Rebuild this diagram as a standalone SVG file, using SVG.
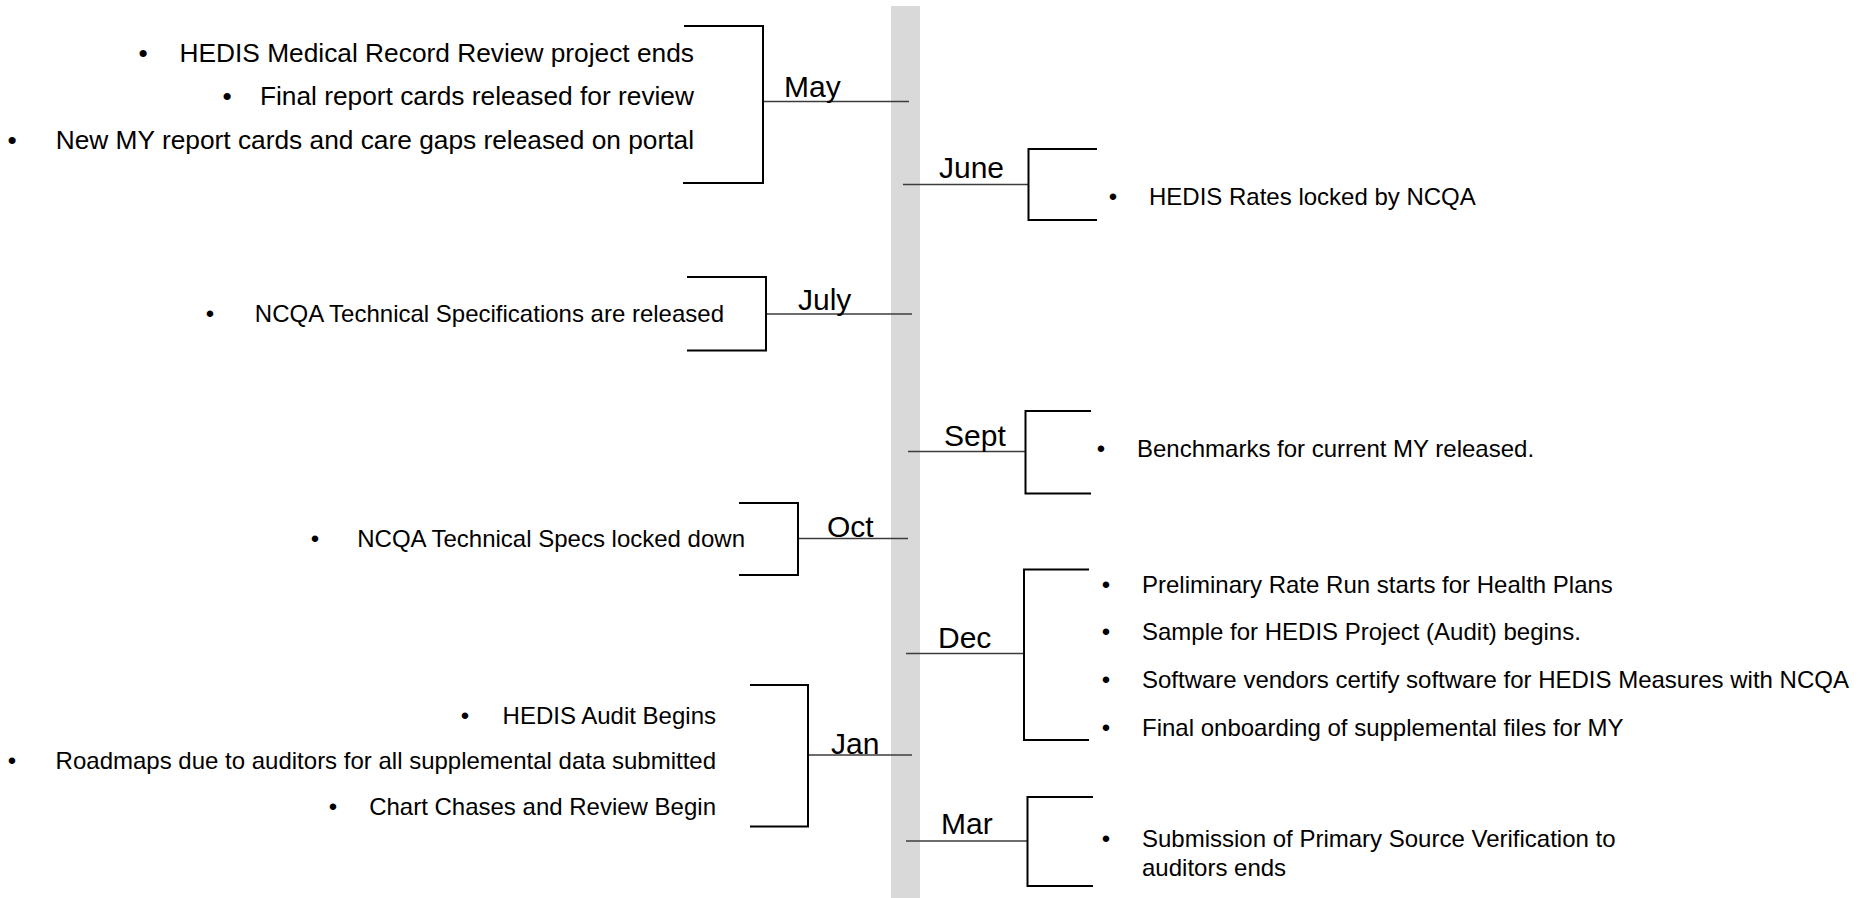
<svg xmlns="http://www.w3.org/2000/svg" width="1874" height="898" viewBox="0 0 1874 898">
<style>
.bar{fill:#d9d9d9}
.br{fill:none;stroke:#000;stroke-width:2}
.cn{fill:none;stroke:#3c3c3c;stroke-width:1.6}
.m{font-family:"Liberation Sans",Arial,sans-serif;font-size:30px;fill:#000}
.t{font-family:"Liberation Sans",Arial,sans-serif;font-size:24px;fill:#000}
.tl{font-family:"Liberation Sans",Arial,sans-serif;font-size:26.3px;fill:#000}
.e{text-anchor:end}
.b{text-anchor:middle}
</style>
<rect class="bar" x="891" y="6" width="29" height="892"/>
<g id="connectors">
<line class="cn" x1="763" y1="101.5" x2="909" y2="101.5"/>
<line class="cn" x1="903" y1="184.5" x2="1028" y2="184.5"/>
<line class="cn" x1="766" y1="314" x2="912" y2="314"/>
<line class="cn" x1="908" y1="451.5" x2="1025" y2="451.5"/>
<line class="cn" x1="798" y1="538.5" x2="908" y2="538.5"/>
<line class="cn" x1="906" y1="653.5" x2="1024" y2="653.5"/>
<line class="cn" x1="808" y1="755" x2="912" y2="755"/>
<line class="cn" x1="906" y1="841" x2="1027" y2="841"/>
</g>
<g id="may">
<polyline class="br" points="684,26 763,26 763,183 683,183"/>
<text class="m" x="784" y="97">May</text>
<text class="tl b" x="143" y="62">•</text>
<text class="tl e" x="694" y="62">HEDIS Medical Record Review project ends</text>
<text class="tl b" x="227" y="105">•</text>
<text class="tl e" x="694" y="105">Final report cards released for review</text>
<text class="tl b" x="12" y="149">•</text>
<text class="tl e" x="694" y="149">New MY report cards and care gaps released on portal</text>
</g>
<g id="june">
<polyline class="br" points="1097,149 1028.5,149 1028.5,220 1097,220"/>
<text class="m" x="939" y="178">June</text>
<text class="t b" x="1113" y="205">•</text>
<text class="t" x="1149" y="205">HEDIS Rates locked by NCQA</text>
</g>
<g id="july">
<polyline class="br" points="687,277 766,277 766,350.5 687,350.5"/>
<text class="m" x="798" y="310">July</text>
<text class="t b" x="210" y="322">•</text>
<text class="t e" x="724" y="322">NCQA Technical Specifications are released</text>
</g>
<g id="sept">
<polyline class="br" points="1091,411 1025.5,411 1025.5,493.5 1091,493.5"/>
<text class="m" x="944" y="446">Sept</text>
<text class="t b" x="1101" y="457">•</text>
<text class="t" x="1137" y="457">Benchmarks for current MY released.</text>
</g>
<g id="oct">
<polyline class="br" points="739,503 798,503 798,575 739,575"/>
<text class="m" x="827" y="536.5">Oct</text>
<text class="t b" x="315" y="547">•</text>
<text class="t e" x="745" y="547">NCQA Technical Specs locked down</text>
</g>
<g id="dec">
<polyline class="br" points="1089,569.5 1024,569.5 1024,740 1089,740"/>
<text class="m" x="938" y="647.5">Dec</text>
<text class="t b" x="1106" y="593">•</text>
<text class="t" x="1142" y="593">Preliminary Rate Run starts for Health Plans</text>
<text class="t b" x="1106" y="640">•</text>
<text class="t" x="1142" y="640">Sample for HEDIS Project (Audit) begins.</text>
<text class="t b" x="1106" y="688">•</text>
<text class="t" x="1142" y="688">Software vendors certify software for HEDIS Measures with NCQA</text>
<text class="t b" x="1106" y="736">•</text>
<text class="t" x="1142" y="736">Final onboarding of supplemental files for MY</text>
</g>
<g id="jan">
<polyline class="br" points="750,685 808,685 808,826.5 750,826.5"/>
<text class="m" x="831" y="754">Jan</text>
<text class="t b" x="465" y="724">•</text>
<text class="t e" x="716" y="724">HEDIS Audit Begins</text>
<text class="t b" x="12" y="769">•</text>
<text class="t e" x="716" y="769">Roadmaps due to auditors for all supplemental data submitted</text>
<text class="t b" x="333" y="815">•</text>
<text class="t e" x="716" y="815">Chart Chases and Review Begin</text>
</g>
<g id="mar">
<polyline class="br" points="1093,797 1027.5,797 1027.5,886 1093,886"/>
<text class="m" x="941" y="834">Mar</text>
<text class="t b" x="1106" y="847">•</text>
<text class="t" x="1142" y="846.5">Submission of Primary Source Verification to</text>
<text class="t" x="1142" y="875.5">auditors ends</text>
</g>
</svg>
